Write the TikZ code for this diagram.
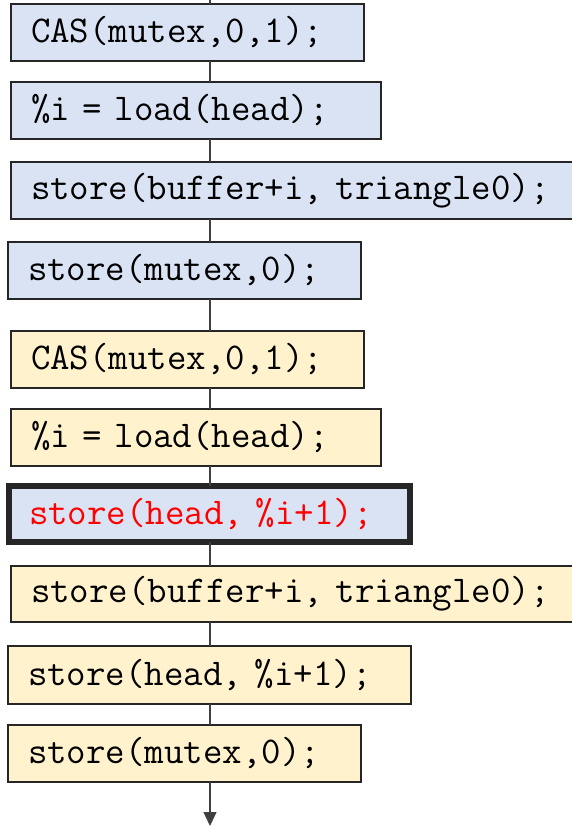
\documentclass[tikz,border=0pt]{standalone}
\usepackage{fontspec}
\usepackage{tikz}
\usetikzlibrary{arrows.meta,positioning,calc}

\definecolor{opblue}{HTML}{DAE3F3}
\definecolor{opyellow}{HTML}{FFF2CC}
\definecolor{framegray}{HTML}{262626}
\definecolor{flowgray}{HTML}{404040}

\tikzset{
  opbox/.style={draw=framegray,line width=1.5pt,rectangle,anchor=north west,outer sep=0pt,
    inner xsep=20pt,inner ysep=0pt,minimum height=57pt,align=left,
    font=\ttfamily\fontsize{37.8pt}{40pt}\selectfont},
  thread1/.style={opbox,fill=opblue},
  thread2/.style={opbox,fill=opyellow},
  racebox/.style={opbox,fill=opblue,line width=6pt,text=red},
  flow/.style={draw=flowgray,line width=1.3pt}
}

\begin{document}
\begin{tikzpicture}[x=1pt,y=-1pt]
  \useasboundingbox (0,0) rectangle (571,826);
  \coordinate (top) at (210,0); % 実行の流れの始まり
  \coordinate (bottom) at (210,826); % 実行の流れの終わり（矢印の先）

  \node[thread1,text width=313pt] (casA) at (11,4) {CAS(mutex,0,1);}; % スレッド1のロック取得
  \node[thread1,text width=330pt] (loadA) at (11,82) {\%i = load(head);}; % スレッド1の読み込み
  \node[thread1,text width=539pt] (bufA) at (11,162) {store(buffer+i, triangle0);}; % スレッド1の書き込み
  \node[thread1,text width=313pt] (unlockA) at (8,242) {store(mutex,0);}; % スレッド1のロック解放
  \node[thread2,text width=313pt] (casB) at (11,331) {CAS(mutex,0,1);}; % スレッド2のロック取得
  \node[thread2,text width=330pt] (loadB) at (11,409) {\%i = load(head);}; % スレッド2の読み込み
  \node[racebox,text width=361pt,minimum height=56pt] (headA) at (9,486) {store(head, \%i+1);}; % 遅れて実行されるスレッド1のhead更新
  \node[thread2,text width=539pt,minimum height=56pt] (bufB) at (11,566) {store(buffer+i, triangle0);}; % スレッド2の書き込み
  \node[thread2,text width=363pt,minimum height=58pt] (headB) at (8,646) {store(head, \%i+1);}; % スレッド2のhead更新
  \node[thread2,text width=313pt] (unlockB) at (8,725) {store(mutex,0);}; % スレッド2のロック解放

  \draw[flow] (top) -- (casA.north -| top);
  \draw[flow] (casA.south -| top) -- (loadA.north -| top);
  \draw[flow] (loadA.south -| top) -- (bufA.north -| top);
  \draw[flow] (bufA.south -| top) -- (unlockA.north -| top);
  \draw[flow] (unlockA.south -| top) -- (casB.north -| top);
  \draw[flow] (casB.south -| top) -- (loadB.north -| top);
  \draw[flow] (loadB.south -| top) -- (headA.north -| top);
  \draw[flow] (headA.south -| top) -- (bufB.north -| top);
  \draw[flow] (bufB.south -| top) -- (headB.north -| top);
  \draw[flow] (headB.south -| top) -- (unlockB.north -| top);
  \draw[flow,-{Triangle[width=13pt,length=14pt]}] (unlockB.south -| top) -- (bottom); % 下向きの矢印
\end{tikzpicture}
\end{document}
